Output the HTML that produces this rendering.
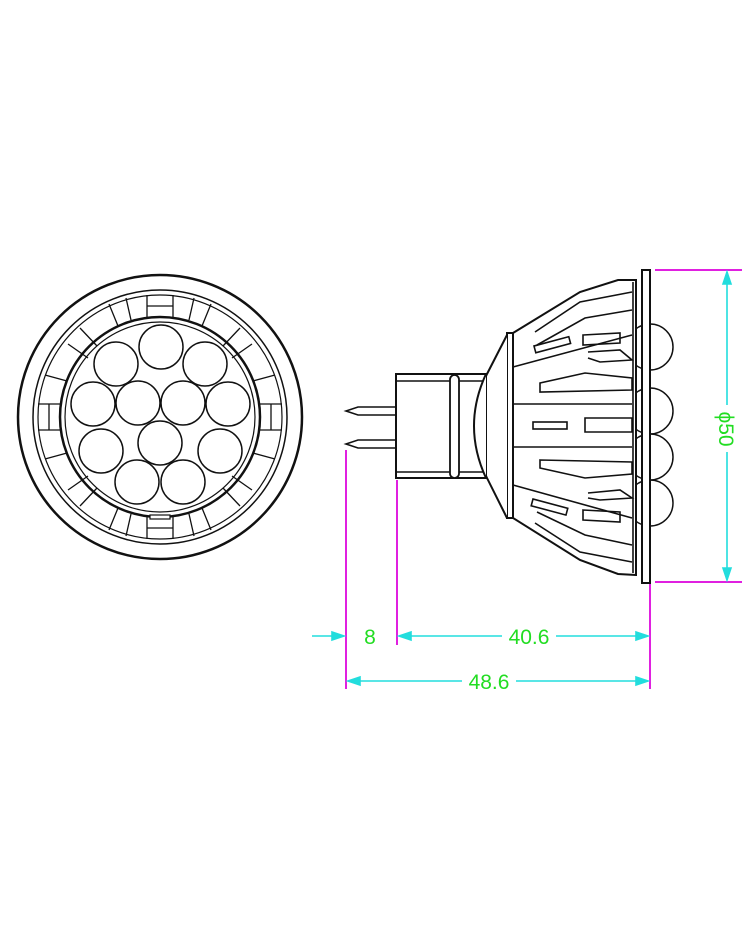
<!DOCTYPE html>
<html><head><meta charset="utf-8"><style>
html,body{margin:0;padding:0;background:#fff;}
svg{display:block;}
text{font-family:"Liberation Sans",sans-serif;fill:#22dd22;}
</style></head><body>
<svg width="750" height="930" viewBox="0 0 750 930" xmlns="http://www.w3.org/2000/svg">
<g fill="none" stroke="#111" stroke-width="2">
  <!-- front view -->
  <circle cx="160" cy="417" r="142" stroke-width="2.5"/>
  <circle cx="160" cy="417" r="127" stroke-width="1.5"/>
  <circle cx="160" cy="417" r="122" stroke-width="1.2"/>
  <circle cx="160" cy="417" r="100" stroke-width="2.5"/>
  <circle cx="160" cy="417" r="95" stroke-width="1.2"/>
  <g stroke-width="1.3">
    <path d="M160 417" />
  </g>
  <g stroke-width="1.3" id="rad">
    <line x1="147" y1="295" x2="147" y2="317"/><line x1="173" y1="295" x2="173" y2="317"/>
    <line x1="147" y1="306" x2="173" y2="306"/>
    <line x1="147" y1="539" x2="147" y2="517"/><line x1="173" y1="539" x2="173" y2="517"/>
    <line x1="147" y1="528" x2="173" y2="528"/>
    <line x1="38" y1="404" x2="60" y2="404"/><line x1="38" y1="430" x2="60" y2="430"/>
    <line x1="49" y1="404" x2="49" y2="430"/>
    <line x1="282" y1="404" x2="260" y2="404"/><line x1="282" y1="430" x2="260" y2="430"/>
    <line x1="271" y1="404" x2="271" y2="430"/>
  </g>
  <g stroke-width="1.3">
    <!-- radial dividers at various angles -->
    <line x1="109" y1="304" x2="118" y2="326"/><line x1="211" y1="304" x2="202" y2="326"/>
    <line x1="109" y1="530" x2="118" y2="508"/><line x1="211" y1="530" x2="202" y2="508"/>
    <line x1="68" y1="344" x2="88" y2="358"/><line x1="252" y1="344" x2="232" y2="358"/>
    <line x1="68" y1="490" x2="88" y2="476"/><line x1="252" y1="490" x2="232" y2="476"/>
    <line x1="80" y1="328" x2="97" y2="346"/><line x1="240" y1="328" x2="223" y2="346"/>
    <line x1="80" y1="506" x2="97" y2="488"/><line x1="240" y1="506" x2="223" y2="488"/>
    <line x1="45" y1="375" x2="67" y2="381"/><line x1="275" y1="375" x2="253" y2="381"/>
    <line x1="45" y1="459" x2="67" y2="453"/><line x1="275" y1="459" x2="253" y2="453"/>
    <line x1="126" y1="298" x2="131" y2="320"/><line x1="194" y1="298" x2="189" y2="320"/>
    <line x1="126" y1="536" x2="131" y2="514"/><line x1="194" y1="536" x2="189" y2="514"/>
  </g>
  <g stroke-width="1.5">
    <circle cx="161" cy="347" r="22"/>
    <circle cx="116" cy="364" r="22"/><circle cx="205" cy="364" r="22"/>
    <circle cx="93" cy="404" r="22"/><circle cx="138" cy="403" r="22"/>
    <circle cx="183" cy="403" r="22"/><circle cx="228" cy="404" r="22"/>
    <circle cx="101" cy="451" r="22"/><circle cx="160" cy="443" r="22"/>
    <circle cx="220" cy="451" r="22"/>
    <circle cx="137" cy="482" r="22"/><circle cx="183" cy="482" r="22"/>
  </g>
  <rect x="150" y="515" width="20" height="4" stroke-width="1.2" fill="#fff"/>

  <!-- side view: LED bumps -->
  <g stroke-width="1.5" fill="#fff">
    <circle cx="650" cy="347" r="23"/>
    <circle cx="650" cy="503" r="23"/>
    <circle cx="650" cy="411" r="23"/>
    <circle cx="650" cy="457" r="23"/>
  </g>
  <!-- face plate -->
  <rect x="642" y="270" width="8" height="313" fill="#fff" stroke-width="2"/>
  <!-- body outline -->
  <path d="M513 333 L580 292 L618 280 L636 280 L636 575 L618 574 L580 560 L513 518 Z" fill="#fff" stroke-width="2"/>
  <rect x="507" y="333" width="6" height="185" fill="#fff"/>
  <g stroke-width="1.6">
    <line x1="633" y1="282" x2="633" y2="573"/>
    <!-- top fins -->
    <path d="M535 332 L580 302 L632 292"/>
    <path d="M537 345 L585 318 L632 310"/>
    <path d="M513 367 L632 335"/>
    <rect x="534" y="346" width="36" height="7" transform="rotate(-15 534 346)"/>
    <path d="M583 335 L620 333 L620 343 L583 345 Z"/>
    <path d="M588 352 L620 350 L632 360 L600 362 L588 358"/>
    <path d="M540 383 L585 373 L632 378 L632 390 L540 392 Z"/>
    <path d="M513 404 L632 404"/>
    <rect x="533" y="422" width="34" height="7"/>
    <path d="M585 418 L632 418 L632 432 L585 432 Z"/>
    <path d="M513 447 L632 447"/>
    <path d="M540 460 L632 462 L632 474 L585 478 L540 468 Z"/>
    <path d="M588 493 L620 490 L632 498 L600 500 L588 498"/>
    <path d="M513 485 L632 518"/>
    <rect x="533" y="499" width="36" height="7" transform="rotate(15 533 499)"/>
    <path d="M583 510 L620 512 L620 522 L583 520 Z"/>
    <path d="M537 512 L585 535 L632 545"/>
    <path d="M535 523 L580 552 L632 562"/>
  </g>
  <!-- neck -->
  <path d="M507 335 L487 374 Q462 426 487 478 L507 518" stroke-width="2" fill="#fff"/>
  <!-- base -->
  <rect x="396" y="374" width="90" height="104" fill="#fff" stroke-width="2"/>
  <path d="M486 374 Q462 426 486 478" stroke-width="2" fill="#fff"/>
  <line x1="396" y1="381" x2="483" y2="381" stroke-width="1.5"/>
  <line x1="396" y1="472" x2="483" y2="472" stroke-width="1.5"/>
  <rect x="450" y="375" width="9" height="103" rx="4.5" fill="#fff" stroke-width="1.8"/>
  <!-- pins -->
  <path d="M396 407 L358 407 L346 411 L358 415 L396 415" stroke-width="1.6"/>
  <path d="M396 440 L358 440 L346 444 L358 448 L396 448" stroke-width="1.6"/>
</g>
<!-- dimensions -->
<g stroke="#e020e0" stroke-width="2" fill="none">
  <line x1="346" y1="450" x2="346" y2="689"/>
  <line x1="397" y1="480" x2="397" y2="645"/>
  <line x1="650" y1="584" x2="650" y2="689"/>
  <line x1="655" y1="270" x2="742" y2="270"/>
  <line x1="655" y1="582" x2="742" y2="582"/>
</g>
<g stroke="#22dddd" stroke-width="1.6" fill="#22dddd">
  <line x1="727" y1="272" x2="727" y2="405"/>
  <line x1="727" y1="452" x2="727" y2="580"/>
  <path d="M727 272 L723 284 L731 284 Z"/>
  <path d="M727 580 L723 568 L731 568 Z"/>
  <line x1="312" y1="636" x2="344" y2="636"/>
  <path d="M344 636 L332 632 L332 640 Z"/>
  <line x1="399" y1="636" x2="502" y2="636"/>
  <line x1="556" y1="636" x2="648" y2="636"/>
  <path d="M399 636 L411 632 L411 640 Z"/>
  <path d="M648 636 L636 632 L636 640 Z"/>
  <line x1="348" y1="681" x2="462" y2="681"/>
  <line x1="516" y1="681" x2="648" y2="681"/>
  <path d="M348 681 L360 677 L360 685 Z"/>
  <path d="M648 681 L636 677 L636 685 Z"/>
</g>
<text x="370" y="644" font-size="21" text-anchor="middle">8</text>
<text x="529" y="644" font-size="21" text-anchor="middle">40.6</text>
<text x="489" y="689" font-size="21" text-anchor="middle">48.6</text>
<text transform="translate(719 429) rotate(90)" font-size="21" text-anchor="middle">ϕ50</text>
</svg>
</body></html>
